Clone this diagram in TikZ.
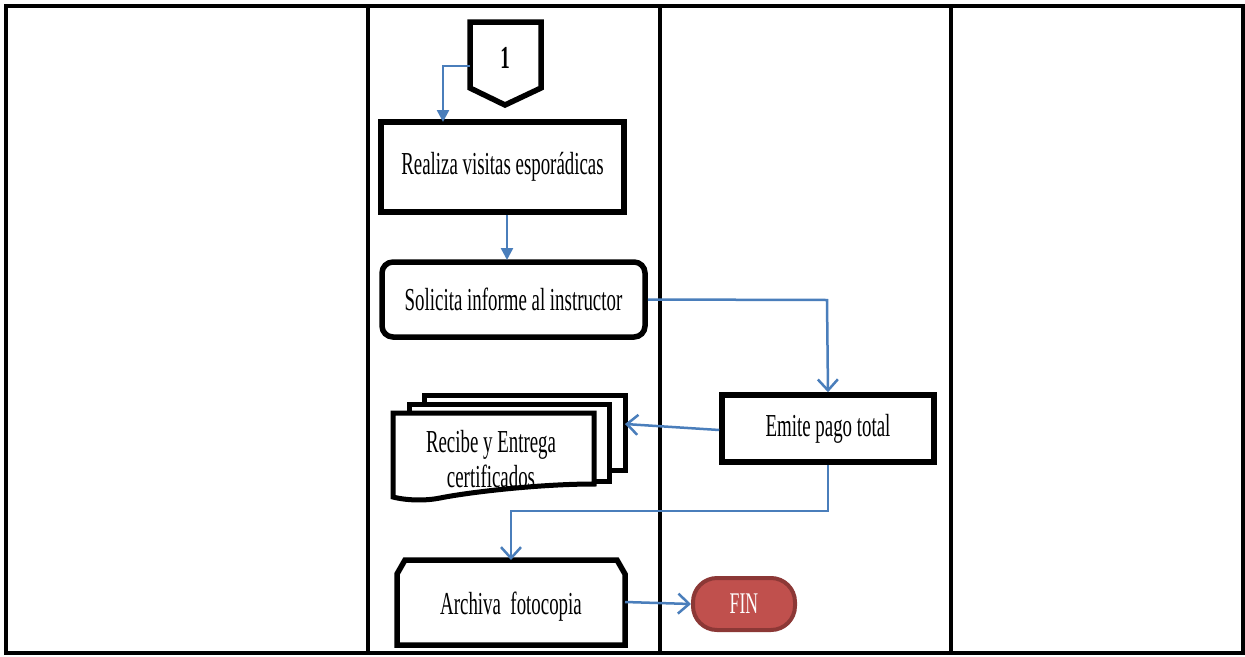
\documentclass[tikz,border=0pt]{standalone}
\usepackage{fontspec}
\setmainfont{Liberation Serif}
\newfontfamily\narrowserif[FakeStretch=0.59]{Liberation Serif}
\usetikzlibrary{arrows.meta,calc}
\definecolor{flowblue}{HTML}{4A7EBB}
\definecolor{finred}{HTML}{C0504D}
\definecolor{finedge}{HTML}{8C3836}
\tikzset{
  lane/.style={line width=3.8pt,black},
  boxfont/.style={font=\narrowserif\fontsize{32}{35}\selectfont},
  procbox/.style={draw=black,line width=5.5pt,fill=white,inner sep=0pt,
    boxfont,align=center},
  sheet/.style={draw=black,line width=5pt,fill=white,line join=miter},
  flow/.style={draw=flowblue,line width=2.5pt},
  solidtip/.style={-{Triangle[length=12pt,width=12pt]}},
  opentip/.style={-{Straight Barb[length=11pt,width=20pt,line width=2.5pt]}},
}
\begin{document}
\begin{tikzpicture}[x=1pt,y=-1pt]
\useasboundingbox (0,0) rectangle (1245,656);
\fill[white] (0,0) rectangle (1245,656);

% swim-lane frame
\draw[lane] (6,6) rectangle (1243,653);
\draw[lane] (368,6) -- (368,653);
\draw[lane] (660,6) -- (660,653);
\draw[lane] (951,6) -- (951,653);

% off-page connector
\draw[line width=5.5pt,line join=miter,fill=white]
  (470,22) -- (541,22) -- (541,88) -- (505,105) -- (470,88) -- cycle;
\node[font=\narrowserif\bfseries\fontsize{32}{35}\selectfont] (con) at (505,58) {1};
\coordinate (conW) at (470,66);

% process steps
\node[procbox,minimum width=243pt,minimum height=90pt] (visitas) at (502.5,167)
  {Realiza visitas esporádicas};
\node[procbox,rounded corners=11pt,minimum width=263pt,minimum height=75pt] (informe) at (513.5,299.5)
  {Solicita informe al instructor};
\node[procbox,minimum width=212pt,minimum height=67pt] (pago) at (828,428.5)
  {Emite pago total};

% stacked documents
\draw[sheet] (424,395) rectangle (625,470);
\draw[sheet] (409,404) rectangle (609,481);
\draw[sheet] (393,413) -- (594,413) -- (594,484)
  .. controls (540,484) and (470,492) .. (440,498)
  .. controls (420,502) and (400,499) .. (393,497) -- cycle;
\node[boxfont,align=center] (certif) at (491,459)
  {Recibe y Entrega\\certificados};
\coordinate (docE) at (625,424);

% archive step with clipped top corners
\draw[line width=5.5pt,line join=miter,fill=white]
  (397,645) -- (397,574) -- (405,560) -- (617,560) -- (625,574) -- (625,645) -- cycle;
\node[boxfont] (archiva) at (511,607) {Archiva\ \ fotocopia};
\coordinate (archN) at (511,560);
\coordinate (archE) at (625,602);

% terminator
\node[draw=finedge,line width=4pt,fill=finred,rounded corners=24pt,
  minimum width=102pt,minimum height=52pt,inner sep=0pt,text=white,
  font=\narrowserif\fontsize{30}{33}\selectfont] (fin) at (744,604) {FIN};

% connectors
\draw[flow,solidtip] (conW) -- (443,66) -- (443,122);
\draw[flow,solidtip] (visitas.south) ++(4.5,0) -- (507,260);
\draw[flow,opentip] (informe.east) -- (827,300) -- (pago.north);
\draw[flow,opentip] (pago.west) ++(0,1.5) -- (docE);
\draw[flow,opentip] (pago.south) -- (828,511) -- (511,511) -- (archN);
\draw[flow,opentip] (archE) -- (fin.west);
\end{tikzpicture}
\end{document}
